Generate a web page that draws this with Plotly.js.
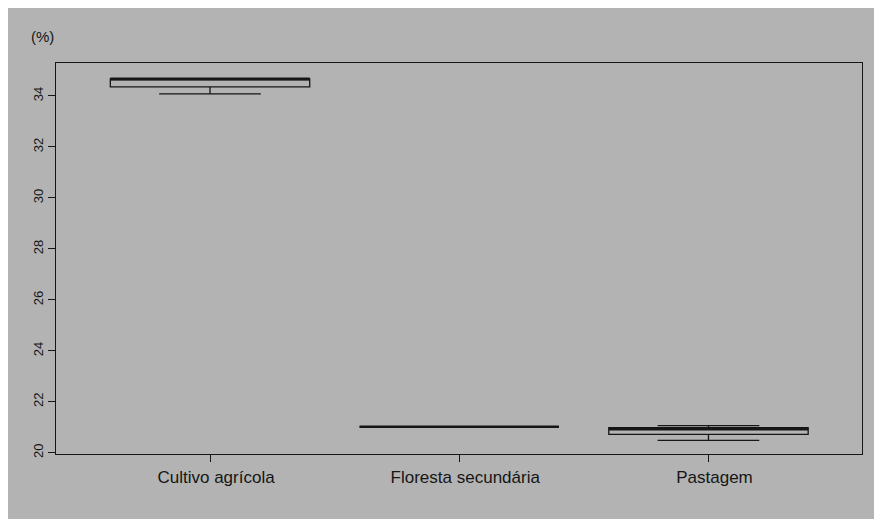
<!DOCTYPE html>
<html>
<head>
<meta charset="utf-8">
<script src="https://cdn.plot.ly/plotly-3.0.1.min.js"></script>
<style>
html,body{margin:0;padding:0;background:#ffffff;overflow:hidden;}
#chart{position:absolute;left:8px;top:8px;width:870px;height:515px;}
</style>
</head>
<body>
<div id="chart"></div>
<script>
// Data
const categories = ["Cultivo agrícola", "Floresta secundária", "Pastagem"];
const lowerWhisker = [34.08, 21.02, 20.49];
const q1Values     = [34.36, 21.02, 20.72];
const medianValues = [34.67, 21.02, 20.93];
const q3Values     = [34.67, 21.02, 20.99];
const upperWhisker = [34.67, 21.02, 21.07];
const yTickValues  = [20, 22, 24, 26, 28, 30, 32, 34];
const yUnitLabel   = "(%)";

const ink = "#161616";
const bg = "#b3b3b3";

const boxTrace = {
  type: "box",
  x: categories,
  q1: q1Values,
  median: medianValues,
  q3: q3Values,
  lowerfence: lowerWhisker,
  upperfence: upperWhisker,
  width: 0.8,
  whiskerwidth: 0.51,
  fillcolor: "rgba(0,0,0,0)",
  line: {color: ink, width: 1.3},
  boxpoints: false,
  hoverinfo: "skip",
  showlegend: false
};

// thicker median line, drawn as a flat box at the median values
const medianTrace = {
  type: "box",
  x: categories,
  q1: medianValues,
  median: medianValues,
  q3: medianValues,
  lowerfence: medianValues,
  upperfence: medianValues,
  width: 0.8,
  whiskerwidth: 0,
  fillcolor: "rgba(0,0,0,0)",
  line: {color: ink, width: 2.6},
  boxpoints: false,
  hoverinfo: "skip",
  showlegend: false
};

const layout = {
  width: 870,
  height: 515,
  paper_bgcolor: bg,
  plot_bgcolor: bg,
  margin: {l: 48, r: 16, t: 55, b: 68.5},
  boxmode: "overlay",
  font: {family: "Liberation Sans, Arial, sans-serif", color: ink},
  xaxis: {
    type: "category",
    range: [-0.618, 2.616],
    showline: true, mirror: true, linecolor: ink, linewidth: 1.3,
    ticks: "outside", ticklen: 7, tickwidth: 1, tickcolor: ink,
    ticklabelshift: 6,
    showgrid: false, zeroline: false,
    tickfont: {size: 17, color: ink}
  },
  yaxis: {
    range: [19.953, 35.293],
    tickvals: yTickValues,
    ticktext: yTickValues.map(String),
    tickangle: -90,
    showline: true, mirror: true, linecolor: ink, linewidth: 1.3,
    ticks: "outside", ticklen: 7, tickwidth: 1, tickcolor: ink,
    showgrid: false, zeroline: false,
    tickfont: {size: 13, color: ink}
  },
  annotations: [{
    text: yUnitLabel,
    xref: "paper", yref: "paper",
    x: -0.017, y: 1.068,
    xanchor: "center", yanchor: "middle",
    showarrow: false,
    font: {size: 15, color: ink}
  }]
};

Plotly.newPlot("chart", [boxTrace, medianTrace], layout, {displayModeBar: false, staticPlot: true});
</script>
</body>
</html>
